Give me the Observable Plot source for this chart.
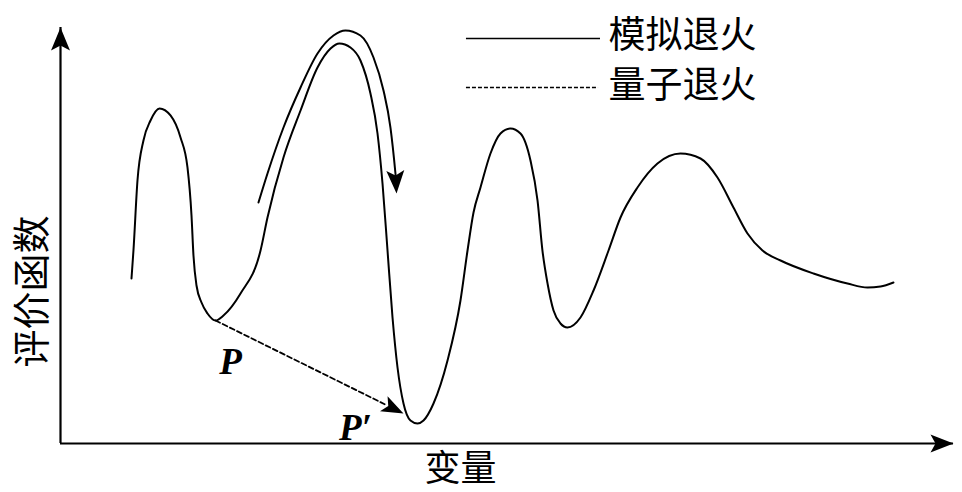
<!DOCTYPE html>
<html><head><meta charset="utf-8">
<script src="https://cdn.jsdelivr.net/npm/d3@7"></script>
<script src="https://cdn.jsdelivr.net/npm/@observablehq/plot@0.6"></script>
<style>html,body{margin:0;padding:0;background:#fff;} svg{display:block}</style>
</head><body><div id="chart"></div>
<script>
// evaluation-function landscape (variable → evaluation), schematic units 0..100
const curveX = [7.95,8.17,8.62,9.29,10.08,11.09,12.32,13.44,14.22,14.67,14.89,15.23,15.79,16.46,17.36,18.25,20.16,22.40,23.18,24.97,26.88,28.78,30.24,31.24,32.47,33.59,34.71,35.50,36.06,36.62,37.18,37.74,38.41,39.19,39.98,40.65,41.77,43.34,44.79,45.58,46.25,47.03,48.15,49.27,50.39,51.51,52.63,53.42,53.97,54.54,55.21,55.99,56.77,58.23,59.69,61.37,62.71,64.61,66.85,69.43,71.67,73.57,75.36,76.93,78.61,80.63,84.32,88.13,90.37,91.83,93.28];
const curveY = [39.66,46.39,63.22,72.84,77.64,80.53,78.85,73.56,66.35,54.81,45.19,37.98,33.89,31.25,29.57,30.77,36.06,46.39,54.33,68.75,80.05,90.38,94.95,96.15,95.19,92.07,84.13,74.52,62.50,46.39,30.29,18.27,9.62,5.53,4.81,5.53,9.62,19.95,34.38,46.39,55.53,61.54,69.71,74.52,75.72,74.52,68.03,58.41,46.39,38.46,31.97,28.85,27.88,30.29,36.78,46.39,54.33,61.54,67.31,69.71,68.51,63.94,56.73,50.48,46.39,43.99,40.87,38.46,37.50,37.74,38.70];

// simulated-annealing path over the big hill
const saX = [22.17,23.18,24.97,26.88,28.78,30.57,31.91,33.59,35.05,36.17,36.95,37.51,37.57];
const saY = [57.93,64.90,75.96,85.58,93.75,98.08,99.28,98.08,92.79,84.86,75.96,64.90,63.50];
const saTip = {x: 37.63, y: 60.10};

// quantum-annealing jump P → P'
const qaX = [17.36, 36.30];
const qaY = [29.57, 9.45];
const qaTip = {x: 38.41, y: 7.21};

// point labels
const pointLabels = ["P", "P′"];
const pointLabelX = [19.04, 33.03];
const pointLabelY = [19.47, 3.61];

// legend
const legendNames = ["模拟退火", "量子退火"];
const legendY = [97.36, 85.58];
const legendX1 = [45.46, 45.46];
const legendX2 = [60.47, 60.25];
const legendDash = ["none", "4,2"];
const legendTextX = [61.37, 61.37];
const legendTextY = [97.84, 85.82];

// axis titles
const xTitle = "变量", yTitle = "评价函数";
const xTitlePos = {x: 44.79, y: -6.25};
const yTitlePos = {x: -3.14, y: 36.54};

const W = 962, H = 492, mL = 60, mR = 9, mT = 27, mB = 49;
const X = d3.scaleLinear([0, 100], [mL, W - mR]);
const Y = d3.scaleLinear([0, 100], [H - mB, mT]);

function head(angleDeg, L, Wd, notch) {
  const a = angleDeg * Math.PI / 180, c = Math.cos(a), s = Math.sin(a);
  const pts = [[0, 0], [-L, -Wd], [-L + notch, 0], [-L, Wd]].map(([px, py]) => [px * c - py * s, px * s + py * c]);
  return {draw(ctx) { ctx.moveTo(...pts[0]); for (let i = 1; i < pts.length; i++) ctx.lineTo(...pts[i]); ctx.closePath(); }};
}
const ang = (a, b) => Math.atan2(Y(b.y) - Y(a.y), X(b.x) - X(a.x)) * 180 / Math.PI;

const curve = curveX.map((x, i) => ({x, y: curveY[i]}));
const sa = saX.map((x, i) => ({x, y: saY[i]}));
const qa = qaX.map((x, i) => ({x, y: qaY[i]}));
const labels = pointLabels.map((t, i) => ({t, x: pointLabelX[i], y: pointLabelY[i]}));
const legend = legendNames.map((t, i) => ({t, y: legendY[i], x1: legendX1[i], x2: legendX2[i], dash: legendDash[i], tx: legendTextX[i], ty: legendTextY[i]}));

const saAng = ang(sa[sa.length - 2], saTip);
const qaAng = ang({x: qaX[0], y: qaY[0]}, qaTip);

const cjk = "'Noto Sans CJK SC', sans-serif";
const chart = Plot.plot({
  width: W, height: H, marginLeft: mL, marginRight: mR, marginTop: mT, marginBottom: mB,
  x: {domain: [0, 100], axis: null},
  y: {domain: [0, 100], axis: null},
  style: {background: "#fff", overflow: "visible"},
  marks: [
    Plot.ruleY([0], {stroke: "black", strokeWidth: 2.2}),
    Plot.ruleX([0], {stroke: "black", strokeWidth: 2.2}),
    Plot.dot([{x: 100, y: 0}], {x: "x", y: "y", symbol: head(0, 23, 9, 5), fill: "black", stroke: "none"}),
    Plot.dot([{x: 0, y: 100}], {x: "x", y: "y", symbol: head(-90, 23, 9.5, 5), fill: "black", stroke: "none"}),
    Plot.line(curve, {x: "x", y: "y", curve: "monotone-x", stroke: "black", strokeWidth: 2}),
    Plot.line(sa, {x: "x", y: "y", curve: "monotone-x", stroke: "black", strokeWidth: 2}),
    Plot.dot([saTip], {x: "x", y: "y", symbol: head(saAng, 23, 9, 5), fill: "black", stroke: "none"}),
    Plot.line(qa, {x: "x", y: "y", stroke: "black", strokeWidth: 1.8, strokeDasharray: "5,3"}),
    Plot.dot([qaTip], {x: "x", y: "y", symbol: head(qaAng, 22, 8.5, 5), fill: "black", stroke: "none"}),
    Plot.ruleY(legend.slice(0, 1), {y: "y", x1: "x1", x2: "x2", stroke: "black", strokeWidth: 1.6}),
    Plot.ruleY(legend.slice(1), {y: "y", x1: "x1", x2: "x2", stroke: "black", strokeWidth: 1.6, strokeDasharray: legendDash[1]}),
    Plot.text(legend, {x: "tx", y: "ty", text: "t", textAnchor: "start", fontFamily: cjk, fontSize: 37, fill: "black"}),
    Plot.text(labels, {x: "x", y: "y", text: "t", fontFamily: "'Liberation Serif', serif", fontStyle: "italic", fontWeight: "bold", fontSize: 37, fill: "black"}),
    Plot.text([xTitle], {x: xTitlePos.x, y: xTitlePos.y, text: d => d, fontFamily: cjk, fontSize: 36, fill: "black"}),
    Plot.text([yTitle], {x: yTitlePos.x, y: yTitlePos.y, text: d => d, rotate: -90, fontFamily: cjk, fontSize: 38, fill: "black"})
  ]
});
document.getElementById("chart").appendChild(chart);
</script>
</body></html>
